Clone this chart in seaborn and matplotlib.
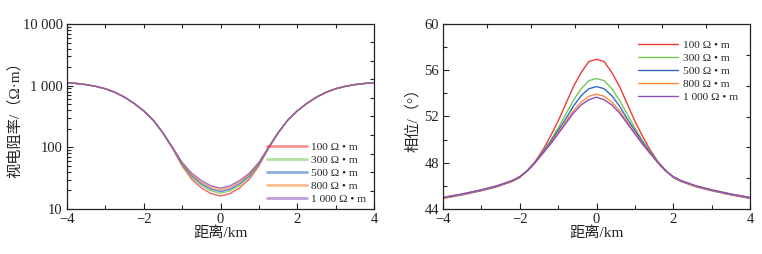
import numpy as np
import pandas as pd
import matplotlib
matplotlib.use("Agg")
import matplotlib.pyplot as plt
from matplotlib.lines import Line2D
import seaborn as sns

sns.set_theme(style="ticks")
plt.rcParams["font.family"] = ["Liberation Serif", "Noto Sans CJK SC"]
plt.rcParams["axes.unicode_minus"] = True

series_labels = ["100 Ω • m", "300 Ω • m", "500 Ω • m", "800 Ω • m", "1 000 Ω • m"]
series_colors = ["#f03a3a", "#74c850", "#3268c8", "#ff8a3c", "#8a50bc"]

# ---------- apparent resistivity (left) ----------
rho_x = [-4, -3.75, -3.5, -3.25, -3, -2.75, -2.5, -2.25, -2, -1.75, -1.5, -1.25, -1,
         -0.75, -0.5, -0.25, 0, 0.25, 0.5, 0.75, 1, 1.25, 1.5, 1.75, 2, 2.25, 2.5,
         2.75, 3, 3.25, 3.5, 3.75, 4]
rho_100 = [1120, 1085, 1040, 975, 890, 780, 650, 515, 390, 275, 170, 95.7, 50, 30.4, 22.0,
           17.8, 16.3, 17.8, 22.0, 30.4, 50, 95.7, 170, 275, 390, 515, 650, 780, 890, 975,
           1040, 1085, 1120]
rho_300 = [1120, 1085, 1040, 975, 890, 780, 650, 515, 390, 275, 171, 97.3, 52.3, 33.0, 24.2,
           19.7, 18.0, 19.7, 24.2, 33.0, 52.3, 97.3, 171, 275, 390, 515, 650, 780, 890, 975,
           1040, 1085, 1120]
rho_500 = [1120, 1085, 1040, 975, 890, 780, 650, 515, 390, 275, 171.5, 98.3, 53.8, 34.6, 25.7,
           21.0, 19.2, 21.0, 25.7, 34.6, 53.8, 98.3, 171.5, 275, 390, 515, 650, 780, 890, 975,
           1040, 1085, 1120]
rho_800 = [1120, 1085, 1040, 975, 890, 780, 650, 515, 390, 275, 172, 99, 55.4, 36.2, 27.3,
           22.4, 20.5, 22.4, 27.3, 36.2, 55.4, 99, 172, 275, 390, 515, 650, 780, 890, 975,
           1040, 1085, 1120]
rho_1000 = [1120, 1085, 1040, 975, 890, 780, 650, 515, 390, 275, 172, 100, 57, 38, 29,
            23.8, 21.8, 23.8, 29, 38, 57, 100, 172, 275, 390, 515, 650, 780, 890, 975,
            1040, 1085, 1120]

# ---------- phase (right) ----------
phs_x = [-4, -3.5, -3, -2.6, -2.2, -2.0, -1.8, -1.6, -1.4, -1.2, -1.0, -0.8, -0.6, -0.4, -0.2,
         0, 0.2, 0.4, 0.6, 0.8, 1.0, 1.2, 1.4, 1.6, 1.8, 2.0, 2.2, 2.6, 3, 3.5, 4]
phs_100 = [44.92, 45.22, 45.58, 45.92, 46.38, 46.72, 47.35, 48.1, 49.1, 50.3, 51.6, 53.1, 54.6,
           55.8, 56.75, 56.95, 56.75, 55.8, 54.6, 53.1, 51.6, 50.3, 49.1, 48.1, 47.35, 46.72,
           46.38, 45.92, 45.58, 45.22, 44.92]
phs_300 = [44.95, 45.25, 45.61, 45.95, 46.41, 46.75, 47.33, 48.05, 48.95, 49.9, 51.0, 52.2, 53.4,
           54.4, 55.1, 55.28, 55.1, 54.4, 53.4, 52.2, 51.0, 49.9, 48.95, 48.05, 47.33, 46.75,
           46.41, 45.95, 45.61, 45.25, 44.95]
phs_500 = [44.97, 45.27, 45.63, 45.97, 46.43, 46.77, 47.32, 48.03, 48.9, 49.8, 50.8, 51.8, 52.9,
           53.8, 54.4, 54.59, 54.4, 53.8, 52.9, 51.8, 50.8, 49.8, 48.9, 48.03, 47.32, 46.77,
           46.43, 45.97, 45.63, 45.27, 44.97]
phs_800 = [44.99, 45.29, 45.65, 45.99, 46.45, 46.79, 47.3, 48.0, 48.82, 49.65, 50.6, 51.55, 52.5,
           53.25, 53.75, 53.93, 53.75, 53.25, 52.5, 51.55, 50.6, 49.65, 48.82, 48.0, 47.3, 46.79,
           46.45, 45.99, 45.65, 45.29, 44.99]
phs_1000 = [45.0, 45.3, 45.66, 46.0, 46.46, 46.8, 47.3, 48.0, 48.8, 49.6, 50.5, 51.4, 52.3,
            53.0, 53.45, 53.67, 53.45, 53.0, 52.3, 51.4, 50.5, 49.6, 48.8, 48.0, 47.3, 46.8,
            46.46, 46.0, 45.66, 45.3, 45.0]

rho_series = [rho_100, rho_300, rho_500, rho_800, rho_1000]
phs_series = [phs_100, phs_300, phs_500, phs_800, phs_1000]


def long_df(xs, series):
    rows = []
    for lab, vals in zip(series_labels, series):
        for x, v in zip(xs, vals):
            rows.append((x, v, lab))
    return pd.DataFrame(rows, columns=["x", "v", "s"])


df_rho = long_df(rho_x, rho_series)
df_phs = long_df(phs_x, phs_series)
palette = dict(zip(series_labels, series_colors))

fig = plt.figure(figsize=(7.62, 2.54), dpi=100)
fig.patch.set_facecolor("white")
W, H = 762, 254
ax1 = fig.add_axes([67 / W, 1 - 209 / H, 307 / W, 185 / H])
ax2 = fig.add_axes([443 / W, 1 - 209 / H, 307 / W, 185 / H])

sns.lineplot(data=df_rho, x="x", y="v", hue="s", palette=palette, ax=ax1,
             estimator=None, legend=False, linewidth=1.0, alpha=0.8)
sns.lineplot(data=df_phs, x="x", y="v", hue="s", palette=palette, ax=ax2,
             estimator=None, legend=False, linewidth=1.0)

tick_fs = 10.5
lab_fs = 11

for ax in (ax1, ax2):
    ax.set_facecolor("white")
    ax.set_xlim(-4, 4)
    ax.set_xticks([-4, -2, 0, 2, 4])
    ax.set_xticklabels(["\u22124", "\u22122", "0", "2", "4"])
    ax.set_xticks([-3, -1, 1, 3], minor=True)
    ax.tick_params(axis="both", which="major", direction="in", length=4, width=0.8,
                   labelsize=tick_fs, pad=3, colors="#222222", right=False, top=False)
    ax.tick_params(axis="both", which="minor", direction="in", length=3, width=0.8,
                   right=False, top=False)
    for sp in ax.spines.values():
        sp.set_linewidth(0.9)
        sp.set_color("#222222")
    ax.set_xlabel("距离/km", fontsize=lab_fs, labelpad=0)

# left axis
ax1.set_yscale("log")
ax1.set_ylim(10, 10000)
ax1.set_yticks([10, 100, 1000, 10000])
ax1.set_yticklabels(["10", "100", "1 000", "10 000"])
ax1.set_ylabel("视电阻率/（Ω·m）", fontsize=lab_fs, labelpad=1)

# right axis
ax2.set_ylim(44, 60)
ax2.set_yticks([44, 48, 52, 56, 60])
ax2.set_yticks([46, 50, 54, 58], minor=True)
ax2.set_ylabel("相位/（°）", fontsize=lab_fs, labelpad=3)

# extra tick marks on top and right spines
def extra_ticks(ax, xt, ylims, yt):
    tx = ax.twiny()
    tx.set_xlim(-4, 4)
    tx.set_xticks(xt)
    tx.set_xticklabels([])
    tx.tick_params(axis="x", direction="in", length=3, width=0.8, colors="#222222")
    ty = ax.twinx()
    ty.set_ylim(*ylims)
    ty.set_yticks(yt)
    ty.set_yticklabels([])
    ty.tick_params(axis="y", direction="in", length=3, width=0.8, colors="#222222")
    for t in (tx, ty):
        for sp in t.spines.values():
            sp.set_visible(False)


extra_ticks(ax1, [-3, -2, -1, 0, 1, 2, 3], (1, 4),
            [1.3, 1.6, 1.9, 2.2, 2.5, 2.8, 3.1, 3.4, 3.7])
extra_ticks(ax2, [-4 + k * 8 / 7 for k in range(1, 7)], (44, 60),
            [44 + k * 16 / 6 for k in range(1, 6)])

# legends
h1 = [Line2D([], [], color=c, lw=2.0, alpha=0.55) for c in series_colors]
leg1 = ax1.legend(h1, series_labels, loc="lower right", bbox_to_anchor=(0.99, 0.0),
                  frameon=False, fontsize=8.2, handlelength=3.5, handletextpad=0.4,
                  labelspacing=0.28, borderpad=0.2, borderaxespad=0.2)
h2 = [Line2D([], [], color=c, lw=1.0) for c in series_colors]
leg2 = ax2.legend(h2, series_labels, loc="upper right", bbox_to_anchor=(0.975, 0.94),
                  frameon=False, fontsize=8.2, handlelength=3.5, handletextpad=0.4,
                  labelspacing=0.28, borderpad=0.2, borderaxespad=0.2)

fig.savefig("out.png", dpi=100, facecolor="white")
